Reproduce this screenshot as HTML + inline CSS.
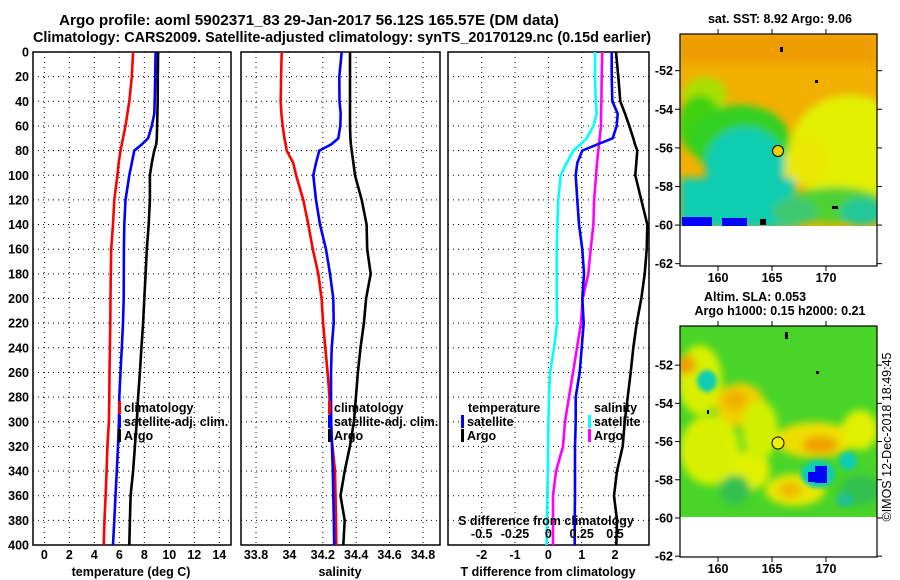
<!DOCTYPE html>
<html><head><meta charset="utf-8"><style>
html,body{margin:0;padding:0;background:#fff;}
svg{display:block;font-family:"Liberation Sans",Arial,sans-serif;}
.t{font-weight:bold;font-size:12.5px;fill:#000;}
.tt{font-weight:bold;font-size:14.5px;fill:#000;}
</style></head><body>
<svg id="fig" width="900" height="580" viewBox="0 0 900 580">
<defs>
<clipPath id="cp1"><rect x="33" y="52" width="198" height="493"/></clipPath>
<clipPath id="cp2"><rect x="241" y="52" width="199" height="493"/></clipPath>
<clipPath id="cp3"><rect x="448" y="52" width="201" height="493"/></clipPath>
<clipPath id="cm1"><rect x="680" y="34" width="197" height="192"/></clipPath>
<clipPath id="cm2"><rect x="680" y="326" width="197" height="191"/></clipPath>
<filter id="bl" x="-20%" y="-20%" width="140%" height="140%"><feGaussianBlur stdDeviation="4"/></filter>
<filter id="bl2" x="-20%" y="-20%" width="140%" height="140%"><feGaussianBlur stdDeviation="2"/></filter>
</defs>
<text class="tt" x="309" y="25" text-anchor="middle" textLength="500" lengthAdjust="spacingAndGlyphs">Argo profile: aoml 5902371_83 29-Jan-2017 56.12S 165.57E (DM data)</text>
<text class="tt" x="342" y="42" text-anchor="middle" textLength="618" lengthAdjust="spacingAndGlyphs">Climatology: CARS2009. Satellite-adjusted climatology: synTS_20170129.nc (0.15d earlier)</text>
<g id="plots"></g>

<!-- Top map: SST -->
<text class="t" x="780" y="23" text-anchor="middle">sat. SST: 8.92 Argo: 9.06</text>
<g clip-path="url(#cm1)">
<rect x="680" y="34" width="197" height="192" fill="#f2b000"/>
<g filter="url(#bl)">
<rect x="680" y="34" width="197" height="30" fill="#ee9c00"/>
<ellipse cx="850" cy="150" rx="60" ry="55" fill="#e2f000"/>
<ellipse cx="805" cy="160" rx="25" ry="25" fill="#e8e800"/>
<ellipse cx="705" cy="95" rx="22" ry="18" fill="#a8e000"/>
<ellipse cx="700" cy="125" rx="22" ry="30" fill="#40d010"/>
<ellipse cx="740" cy="140" rx="50" ry="35" fill="#30d020"/>
<ellipse cx="745" cy="165" rx="40" ry="38" fill="#10ccb0"/>
<rect x="680" y="178" width="115" height="50" fill="#10ccb0"/>
<ellipse cx="835" cy="205" rx="50" ry="18" fill="#50d030"/>
<ellipse cx="862" cy="212" rx="22" ry="14" fill="#20c898"/>
<ellipse cx="795" cy="212" rx="22" ry="14" fill="#40c870"/>
</g>
<rect x="682" y="217" width="30" height="9" fill="#0000ff"/>
<rect x="722" y="218" width="25" height="8" fill="#0000ff"/>
<rect x="760" y="219" width="6" height="6" fill="#000"/>
<rect x="832" y="206" width="6" height="3" fill="#000"/>
<rect x="780" y="47" width="3" height="5" fill="#000"/>
<rect x="815" y="80" width="3" height="3" fill="#000"/>
</g>
<rect x="680" y="34" width="197" height="232" fill="none" stroke="#000" stroke-width="1.2"/>
<circle cx="778" cy="151" r="5.5" fill="#f0d000" stroke="#000" stroke-width="1"/>
<g id="map1ticks"></g>

<!-- Bottom map: SLA -->
<text class="t" x="755" y="301" text-anchor="middle">Altim. SLA: 0.053</text>
<text class="t" x="780" y="315" text-anchor="middle">Argo h1000: 0.15 h2000: 0.21</text>
<g clip-path="url(#cm2)">
<rect x="680" y="326" width="197" height="191" fill="#48d428"/>
<g filter="url(#bl)">
<ellipse cx="700" cy="380" rx="22" ry="35" fill="#d8f000"/>
<ellipse cx="686" cy="365" rx="10" ry="10" fill="#f0a000"/>
<ellipse cx="740" cy="405" rx="25" ry="22" fill="#f0d000"/>
<ellipse cx="735" cy="400" rx="12" ry="10" fill="#f0b000"/>
<ellipse cx="710" cy="450" rx="30" ry="35" fill="#d8f000"/>
<ellipse cx="750" cy="470" rx="20" ry="20" fill="#e0f000"/>
<ellipse cx="815" cy="440" rx="40" ry="18" fill="#eede00"/>
<ellipse cx="820" cy="445" rx="18" ry="9" fill="#f0a000"/>
<ellipse cx="860" cy="430" rx="18" ry="20" fill="#e0f000"/>
<ellipse cx="795" cy="490" rx="30" ry="16" fill="#e8e800"/>
<ellipse cx="790" cy="490" rx="12" ry="8" fill="#f0b800"/>
<ellipse cx="760" cy="430" rx="18" ry="30" fill="#d0f000"/>
<ellipse cx="735" cy="490" rx="15" ry="15" fill="#30c050"/>
<ellipse cx="860" cy="490" rx="20" ry="15" fill="#30c050"/>
</g>
<g filter="url(#bl2)">
<ellipse cx="707" cy="381" rx="10" ry="11" fill="#10ccb0"/>
<ellipse cx="818" cy="474" rx="17" ry="14" fill="#10ccb0"/>
<ellipse cx="848" cy="461" rx="9" ry="9" fill="#10ccb0"/>
<ellipse cx="845" cy="500" rx="9" ry="7" fill="#20c090"/>
</g>
<rect x="815" y="466" width="12" height="17" fill="#0000ff"/>
<rect x="808" y="472" width="8" height="10" fill="#0000ff"/>
<rect x="785" y="332" width="3" height="7" fill="#000"/>
<rect x="816" y="371" width="3" height="3" fill="#000"/>
<rect x="707" y="410" width="2" height="4" fill="#000"/>
</g>
<rect x="680" y="326" width="197" height="231" fill="none" stroke="#000" stroke-width="1.2"/>
<circle cx="778" cy="443" r="6" fill="#f0f000" stroke="#000" stroke-width="1"/>
<g id="map2ticks"></g>
<text x="891" y="437" font-size="12.5" text-anchor="middle" transform="rotate(-90 891 437)" fill="#000">©IMOS 12-Dec-2018 18:49:45</text>

<script>
var depths = [0,20,40,50,60,70,75,80,90,100,120,140,160,180,200,220,240,260,280,300,320,340,360,380,400];
var tempClim = [7.1,7.0,6.8,6.65,6.5,6.3,6.2,6.1,5.95,5.85,5.6,5.5,5.35,5.32,5.3,5.28,5.25,5.22,5.2,5.17,5.05,4.98,4.9,4.82,4.75];
var tempSat = [8.9,8.87,8.83,8.8,8.6,8.3,7.8,7.2,7.0,6.8,6.5,6.4,6.37,6.36,6.35,6.3,6.2,6.1,6.0,5.97,5.9,5.8,5.7,5.6,5.5];
var tempArgo = [9.1,9.08,9.07,9.05,9.02,9.0,8.95,8.8,8.6,8.45,8.45,8.35,8.2,8.1,8.0,7.9,7.77,7.65,7.5,7.4,7.25,7.1,6.9,6.85,6.8];
var salClim = [33.954,33.95,33.948,33.952,33.96,33.97,33.978,33.984,34.023,34.04,34.083,34.113,34.14,34.173,34.193,34.202,34.215,34.229,34.24,34.243,34.258,34.273,34.276,34.279,34.281];
var salSat = [34.313,34.299,34.3,34.307,34.305,34.293,34.25,34.179,34.159,34.143,34.159,34.183,34.219,34.243,34.263,34.265,34.253,34.249,34.249,34.25,34.255,34.26,34.263,34.266,34.268];
var salArgo = [34.363,34.363,34.363,34.363,34.363,34.365,34.368,34.373,34.383,34.393,34.433,34.462,34.466,34.487,34.459,34.446,34.426,34.41,34.398,34.386,34.362,34.331,34.306,34.331,34.323];
var tDiffSat = [1.9,1.9,1.92,2.08,2.05,1.93,1.47,1.02,0.87,0.82,0.87,0.92,1.02,1.07,1.02,1.06,1.0,0.94,0.82,0.82,0.8,0.8,0.8,0.79,0.79];
var tDiffArgo = [2.03,2.1,2.16,2.3,2.43,2.55,2.6,2.67,2.64,2.61,2.79,2.97,2.95,2.89,2.79,2.65,2.55,2.47,2.38,2.29,2.23,2.06,1.97,2.06,2.04];
var sDiffSat = [0.35,0.35,0.355,0.363,0.338,0.288,0.24,0.188,0.138,0.093,0.075,0.068,0.063,0.063,0.063,0.065,0.043,0.013,0.005,0.0,-0.002,-0.004,-0.008,-0.01,-0.013];
var sDiffArgo = [0.405,0.4,0.398,0.396,0.395,0.385,0.38,0.375,0.365,0.358,0.343,0.338,0.318,0.3,0.258,0.245,0.215,0.185,0.155,0.125,0.11,0.058,0.035,0.035,0.035];
var depthTicks = [0,20,40,60,80,100,120,140,160,180,200,220,240,260,280,300,320,340,360,380,400];
var tempTicks = [0,2,4,6,8,10,12,14];
var salTicks = [33.8,34,34.2,34.4,34.6,34.8];
var salGrid = [33.8,34,34.2,34.4,34.6,34.8];
var tdTicks = [-2,-1,0,1,2];
var sdTicks = [-0.5,-0.25,0,0.25,0.5];
var sdTickLabels = ["-0.5","-0.25","0","0.25","0.5"];
var latTicks = [-52,-54,-56,-58,-60,-62];
var lonTicks = [160,165,170];

var NS = "http://www.w3.org/2000/svg";
var svg = document.getElementById('fig');
var plots = document.getElementById('plots');
function mk(tag, attrs, parent){ var e=document.createElementNS(NS,tag); for(var k in attrs) e.setAttribute(k,attrs[k]); (parent||plots).appendChild(e); return e; }
function yD(d){ return 52 + d*(493/400); }
function lin(d0,d1,r0,r1){ return function(v){ return r0+(v-d0)*(r1-r0)/(d1-d0); }; }
var xT = lin(0,14,44.3,219.3);
var xS = lin(33.8,34.8,256,423);
var xTD = lin(-2,2,481.7,615);
var xSD = lin(-0.5,0.5,481.7,615);

var panels = [
 {x:33,w:198,clip:'cp1',name:'temperature-panel',fx:xT,grid:tempTicks,labels:tempTicks.map(String),xlabel:'temperature (deg C)',lc:131},
 {x:241,w:199,clip:'cp2',name:'salinity-panel',fx:xS,grid:salGrid,labels:salTicks.map(function(v){return String(v);}),xlabel:'salinity',lc:340},
 {x:448,w:201,clip:'cp3',name:'difference-panel',fx:xTD,grid:tdTicks,labels:tdTicks.map(String),xlabel:'T difference from climatology',lc:548}
];
panels.forEach(function(p,pi){
  var g = mk('g',{});
  
  
  p.grid.forEach(function(v){
    var gx=p.fx(v);
    var l=mk('line',{x1:gx,x2:gx,y1:52,y2:545,stroke:'#000','stroke-width':1,'stroke-dasharray':'1,4'},g);
    
    
  });
  depthTicks.forEach(function(d){
    if(d===0||d===400) return;
    var l=mk('line',{x1:p.x,x2:p.x+p.w,y1:yD(d),y2:yD(d),stroke:'#000','stroke-width':1,'stroke-dasharray':'1,4'},g);
    
    
  });
  p.grid.forEach(function(v,i){
    var t=mk('text',{x:p.fx(v),y:559,'text-anchor':'middle','class':'t'},g);
    t.textContent=p.labels[i];
    
    
  });
  var xl=mk('text',{x:p.lc,y:576,'text-anchor':'middle','class':'t'},g);
  xl.textContent=p.xlabel;
  
  
  var fr=mk('rect',{x:p.x,y:52,width:p.w,height:493,fill:'none',stroke:'#000','stroke-width':1.5},g);
  
  
});
depthTicks.forEach(function(d){
  var t=mk('text',{x:29,y:yD(d)+4.5,'text-anchor':'end','class':'t'});
  t.textContent=String(d);
  
  
});

function series(vals, fx, color, clip, name){
  var pts = vals.map(function(v,i){ return fx(v).toFixed(1)+','+yD(depths[i]).toFixed(1); }).join(' ');
  var pl = mk('polyline',{points:pts,fill:'none',stroke:color,'stroke-width':2.6,'clip-path':'url(#'+clip+')','stroke-linejoin':'miter'});
  
  
}
series(tempClim, xT, '#ff0000', 'cp1', 'temp-climatology-line');
series(tempSat, xT, '#0000ff', 'cp1', 'temp-satellite-line');
series(tempArgo, xT, '#000000', 'cp1', 'temp-argo-line');
series(salClim, xS, '#ff0000', 'cp2', 'sal-climatology-line');
series(salSat, xS, '#0000ff', 'cp2', 'sal-satellite-line');
series(salArgo, xS, '#000000', 'cp2', 'sal-argo-line');
series(sDiffSat, xSD, '#00ffff', 'cp3', 'sdiff-satellite-line');
series(sDiffArgo, xSD, '#ff00ff', 'cp3', 'sdiff-argo-line');
series(tDiffSat, xTD, '#0000ff', 'cp3', 'tdiff-satellite-line');
series(tDiffArgo, xTD, '#000000', 'cp3', 'tdiff-argo-line');

function legendEntry(bx, ty, color, label){
  var g=mk('g',{});
  
  
  if(color){ mk('rect',{x:bx,y:ty-11,width:3,height:13,fill:color},g); }
  var t=mk('text',{x:bx+6,y:ty,'class':'t'},g);
  t.textContent=label;
}
legendEntry(118,412,'#ff0000','climatology');
legendEntry(118,426,'#0000ff','satellite-adj. clim.');
legendEntry(118,440,'#000000','Argo');
legendEntry(328,412,'#ff0000','climatology');
legendEntry(328,426,'#0000ff','satellite-adj. clim.');
legendEntry(328,440,'#000000','Argo');
legendEntry(462,412,null,'temperature');
legendEntry(461,426,'#0000ff','satellite');
legendEntry(461,440,'#000000','Argo');
legendEntry(588,412,null,'salinity');
legendEntry(588,426,'#00ffff','satellite');
legendEntry(588,440,'#ff00ff','Argo');
var st=mk('text',{x:546,y:525,'text-anchor':'middle','class':'t'});
st.textContent='S difference from climatology';


sdTicks.forEach(function(v,i){
  var t=mk('text',{x:xSD(v),y:538,'text-anchor':'middle','class':'t'});
  t.textContent=sdTickLabels[i];
  
  
});

function mapTicks(gid, top, bottom, latTop, pxPerLat){
  var g=document.getElementById(gid);
  var lonX=lin(160,170,718,826);
  latTicks.forEach(function(la){
    var y=top+(latTop-la)*pxPerLat;
    mk('line',{x1:675,x2:680,y1:y,y2:y,stroke:'#000'},g);
    mk('line',{x1:877,x2:882,y1:y,y2:y,stroke:'#000'},g);
    var t=mk('text',{x:673,y:y+4.5,'text-anchor':'end','class':'t'},g);
    t.textContent=String(la);
    
    
  });
  lonTicks.forEach(function(lo){
    var x=lonX(lo);
    mk('line',{x1:x,x2:x,y1:bottom,y2:bottom+5,stroke:'#000'},g);
    mk('line',{x1:x,x2:x,y1:top-5,y2:top,stroke:'#000'},g);
    var t=mk('text',{x:x,y:bottom+16,'text-anchor':'middle','class':'t'},g);
    t.textContent=String(lo);
    
    
  });
}
mapTicks('map1ticks',34,266,-50.1,19.3);
mapTicks('map2ticks',326,557,-49.95,19.1);
</script>
</svg>
</body></html>
